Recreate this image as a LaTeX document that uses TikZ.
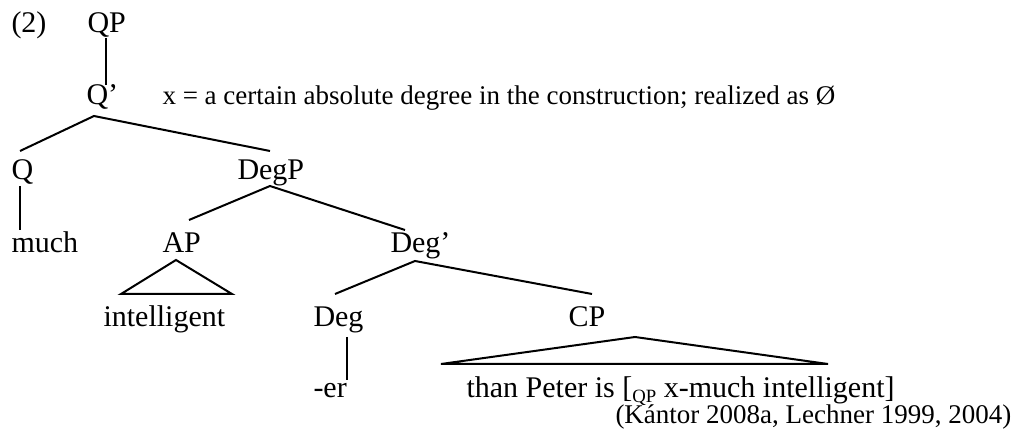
\documentclass[tikz,border=0pt]{standalone}
\usepackage{fontspec}
\setmainfont{Liberation Serif}
\usetikzlibrary{calc}
\tikzset{lbl/.style={anchor=base west,inner sep=0pt,font=\fontsize{12}{14}\selectfont},
	small/.style={lbl,font=\fontsize{10.8}{13}\selectfont},
	branch/.style={line width=0.8pt}}
\newcommand{\subqp}{\raisebox{-0.15em}{\fontsize{7.5}{8}\selectfont QP}}

\begin{document}
\begin{tikzpicture}[x=0.4pt,y=-0.4pt]
		\useasboundingbox (0,0) rectangle (1027,438);
		\node[lbl] (ex) at (11,33) {(2)};
		\node[lbl] (qp) at (87,33) {QP};
		\node[lbl] (qbar) at (86,105) {Q’};
		\node[small] (note) at (162,105) {x = a certain absolute degree in the construction; realized as Ø};
		\node[lbl] (q) at (11,180) {Q};
		\node[lbl] (degp) at (237,180) {DegP};
		\node[lbl] (much) at (11,253) {much};
		\node[lbl] (ap) at (162,253) {AP};
		\node[lbl] (degbar) at (390,253) {Deg’};
		\node[lbl] (intel) at (103,327) {intelligent};
		\node[lbl] (deg) at (313,327) {Deg};
		\node[lbl] (cp) at (568,327) {CP};
		\node[lbl] (er) at (313,398) {-er};
		\node[lbl] (than) at (466,398) {than Peter is [\subqp{} x-much intelligent]};
		\node[small] (cite) at (615,424) {(Kántor 2008a, Lechner 1999, 2004)};
		\draw[branch] ($(qp.base west)+(19,5)$) -- ($(qbar.base west)+(20,-20)$);
		\draw[branch] ($(q.base west)+(9,-29)$) -- ($(qbar.base west)+(8,11)$) -- ($(degp.base west)+(33,-29)$);
		\draw[branch] ($(q.base west)+(9,6)$) -- ($(much.base west)+(9,-23)$);
		\draw[branch] ($(ap.base west)+(27,-33)$) -- ($(degp.base west)+(33,6)$) -- ($(degbar.base west)+(15,-23)$);
		\draw[branch] ($(ap.base west)+(14,7)$) -- ($(intel.base west)+(18,-33)$) -- ($(intel.base west)+(129,-33)$) -- cycle;
		\draw[branch] ($(deg.base west)+(22,-33)$) -- ($(degbar.base west)+(25,8)$) -- ($(cp.base west)+(24,-33)$);
		\draw[branch] ($(deg.base west)+(34,10)$) -- ($(er.base west)+(34,-18)$);
		\draw[branch] ($(cp.base west)+(67,10)$) -- ($(than.base west)+(-25,-34)$) -- ($(than.base west)+(362,-34)$) -- cycle;
	\end{tikzpicture}
\end{document}
